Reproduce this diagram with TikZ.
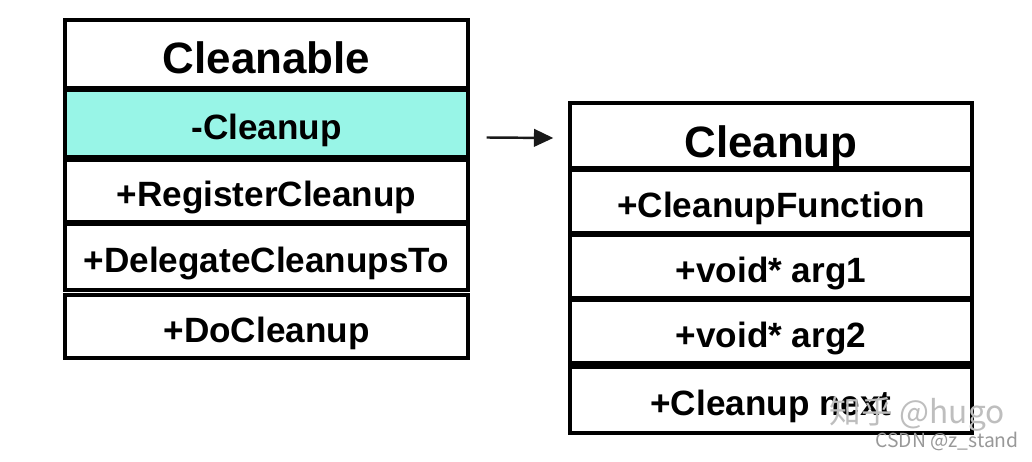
\documentclass[tikz,border=0pt]{standalone}
\usepackage{fontspec}
\setmainfont{Liberation Sans}
\newfontfamily\cjkfont{Noto Sans CJK SC}
\usetikzlibrary{arrows.meta}

\definecolor{fieldteal}{RGB}{152,245,231}
\definecolor{marktext}{RGB}{190,190,190}

\tikzset{
  row/.style={draw=black, line width=2pt, fill=white, rectangle, inner sep=0pt,
    text height=18pt, text depth=0pt,
    font=\fontsize{20}{24}\selectfont\bfseries},
  titlerow/.style={row, text height=22pt, font=\fontsize{25}{30}\selectfont\bfseries},
  ref/.style={-{Triangle[length=11pt,width=10pt]}, line width=1.4pt, black!90}
}

\begin{document}
\begin{tikzpicture}[x=0.02cm,y=-0.02cm]

\useasboundingbox (0,0) rectangle (1032,462);

% class Cleanable
\node [titlerow, minimum width=8.06cm, minimum height=1.36cm] (cleanable) at (266.5,54) {Cleanable};
\node [row, fill=fieldteal, minimum width=8.06cm, minimum height=1.34cm] (cleanupfield) at (266.5,123.5) {-Cleanup};
\node [row, minimum width=8.06cm, minimum height=1.24cm] (register) at (266.5,191) {+RegisterCleanup};
\node [row, minimum width=8.06cm, minimum height=1.32cm] (delegate) at (266.5,257) {+DelegateCleanupsTo};
\node [row, minimum width=8.06cm, minimum height=1.26cm] (docleanup) at (266.5,326.5) {+DoCleanup};

% class Cleanup
\node [titlerow, text height=24.5pt, minimum width=8.04cm, minimum height=1.30cm] (cleanup) at (771,135.5) {Cleanup};
\node [row, minimum width=8.04cm, minimum height=1.26cm] (function) at (771,201.5) {+CleanupFunction};
\node [row, minimum width=8.04cm, minimum height=1.26cm] (argone) at (771,266.5) {+void* arg1};
\node [row, minimum width=8.04cm, minimum height=1.26cm] (argtwo) at (771,331.5) {+void* arg2};
\node [row, minimum width=8.04cm, minimum height=1.32cm] (next) at (771,400) {+Cleanup next};

\draw [ref] ([shift={(17,14)}]cleanupfield.east) -- ([shift={(-15,2.5)}]cleanup.west);

% watermarks
\node [marktext, font=\cjkfont\fontsize{18}{20}\selectfont] (markzhihu) at (917,414) {知乎 @hugo};
\node [marktext!80!black, font=\cjkfont\fontsize{11}{13}\selectfont] (markcsdn) at (947,441) {CSDN @z\_stand};
\end{tikzpicture}
\end{document}
